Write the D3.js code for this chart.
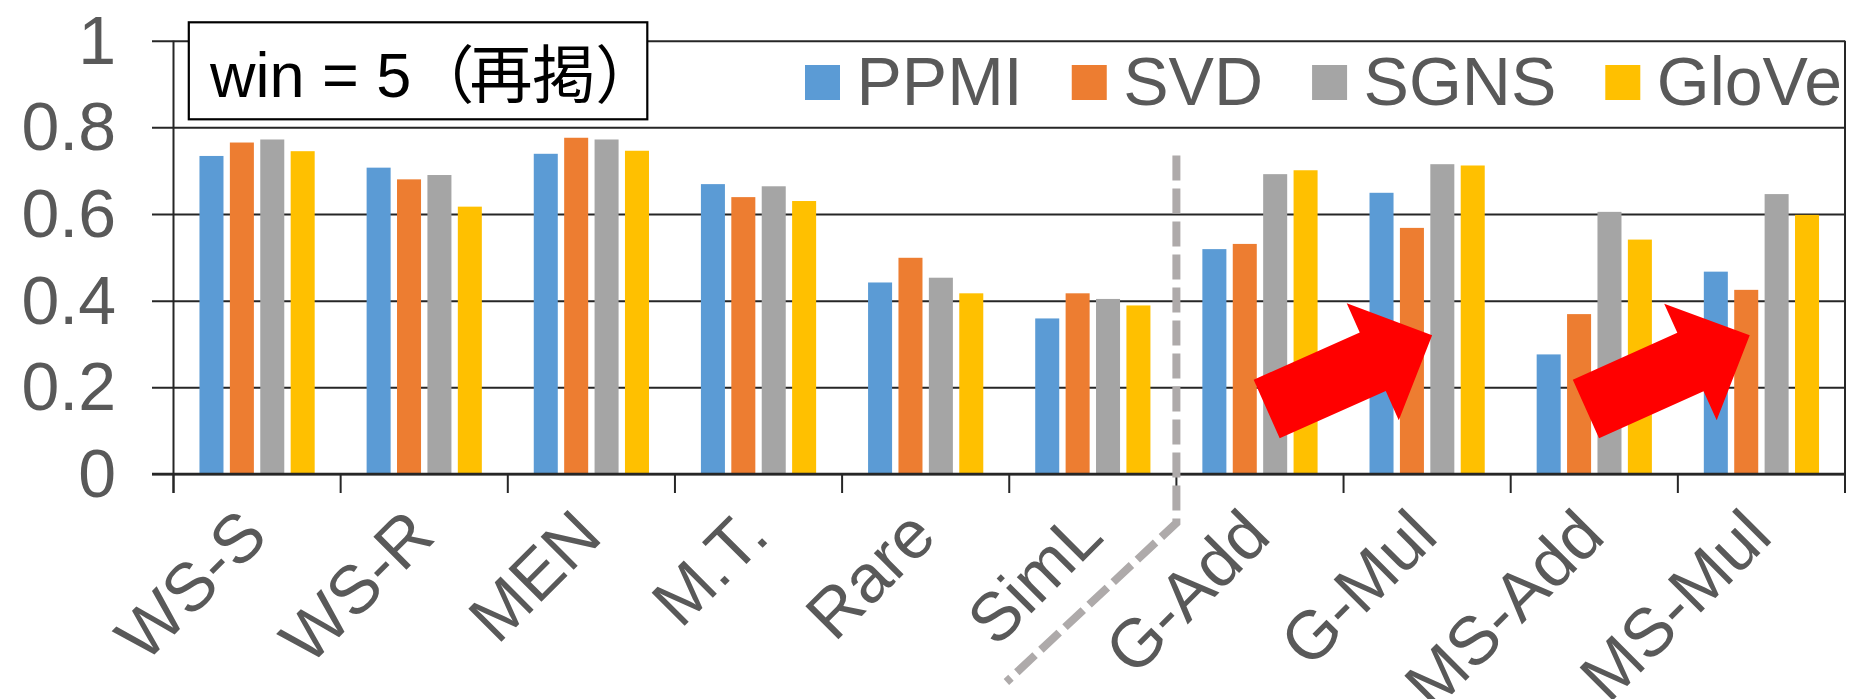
<!DOCTYPE html>
<html>
<head>
<meta charset="utf-8">
<script src="https://cdn.jsdelivr.net/npm/d3@7"></script>
<style>
  body { margin: 0; background: #fff; }
  svg { display: block; }
</style>
</head>
<body>
<svg id="chart" width="1849" height="699"></svg>
<script>
// data
var categories = ["WS-S", "WS-R", "MEN", "M.T.", "Rare", "SimL", "G-Add", "G-Mul", "MS-Add", "MS-Mul"];
var seriesNames = ["PPMI", "SVD", "SGNS", "GloVe"];
var ppmi  = [0.734, 0.707, 0.739, 0.669, 0.442, 0.359, 0.519, 0.649, 0.276, 0.467];
var svd   = [0.765, 0.680, 0.776, 0.639, 0.499, 0.417, 0.531, 0.568, 0.369, 0.425];
var sgns  = [0.772, 0.690, 0.772, 0.664, 0.453, 0.404, 0.692, 0.715, 0.605, 0.646];
var glove = [0.745, 0.617, 0.746, 0.630, 0.417, 0.389, 0.701, 0.712, 0.541, 0.598];
var yTicks = [0, 0.2, 0.4, 0.6, 0.8, 1];
var titleParts = ["win = 5（", "再掲）"];

// dashed divider before this category, up to this value
var dividerCategory = "G-Add";
var dividerTop = 0.735;

// red block arrows: [category, fraction across band, value]
var arrows = [
    { from: ["G-Add", 0.54, 0.15], to: ["G-Mul", 0.53, 0.32] },
    { from: ["MS-Add", 0.45, 0.15], to: ["MS-Mul", 0.43, 0.32] }
];

var seriesValues = [ppmi, svd, sgns, glove];
var colors = ["#5B9BD5", "#ED7D31", "#A5A5A5", "#FFC000"];

var FONT = "'Liberation Sans', Arial, 'Noto Sans CJK JP', sans-serif";
var plotLeft = 173.5, plotRight = 1845, plotTop = 40.7, plotBottom = 474;

var svg = d3.select("#chart");

var x0 = d3.scaleBand().domain(categories).range([plotLeft, plotRight]).padding(0);
var bw = x0.bandwidth();
var x1 = d3.scaleBand().domain(seriesNames)
    .range([bw / 2 - 60.8, bw / 2 + 60.8])
    .paddingInner(0.21).paddingOuter(0.105);
var y = d3.scaleLinear().domain([0, 1]).range([plotBottom, plotTop]);
var color = d3.scaleOrdinal().domain(seriesNames).range(colors);

// gridlines + y labels
var yAxis = svg.append("g")
    .attr("transform", "translate(152,0)")
    .call(d3.axisLeft(y).tickValues(yTicks).tickSize(-(plotRight - 152)).tickPadding(36)
        .tickFormat(function(d) { return d3.format("~g")(d); }));
yAxis.select(".domain").remove();
yAxis.selectAll("line").attr("stroke", "#262626").attr("stroke-width", 2);
yAxis.selectAll("text")
    .attr("fill", "#595959")
    .attr("dy", "0.33em")
    .style("font-family", FONT)
    .style("font-size", "68px");

// y axis line
svg.append("line")
    .attr("x1", plotLeft).attr("x2", plotLeft).attr("y1", y(1)).attr("y2", plotBottom + 19)
    .attr("stroke", "#262626").attr("stroke-width", 2);

// x tick marks at category boundaries (last one runs up as the right border)
var bounds = categories.map(function(c) { return x0(c); }).concat([plotRight]);
svg.append("g").selectAll("line")
    .data(bounds)
    .enter().append("line")
    .attr("x1", function(d) { return d; })
    .attr("x2", function(d) { return d; })
    .attr("y1", function(d, i) { return i == bounds.length - 1 ? y(1) : plotBottom; })
    .attr("y2", plotBottom + 19)
    .attr("stroke", "#262626").attr("stroke-width", 2);

// bars
var rows = categories.map(function(c, i) {
    return { cat: c, vals: seriesNames.map(function(s, j) { return { key: s, value: seriesValues[j][i] }; }) };
});

var group = svg.append("g").selectAll("g")
    .data(rows)
    .enter().append("g")
    .attr("transform", function(d) { return "translate(" + x0(d.cat) + ",0)"; });

group.selectAll("rect")
    .data(function(d) { return d.vals; })
    .enter().append("rect")
    .attr("x", function(d) { return x1(d.key); })
    .attr("y", function(d) { return y(d.value); })
    .attr("width", x1.bandwidth())
    .attr("height", function(d) { return plotBottom - y(d.value); })
    .attr("fill", function(d) { return color(d.key); });

// zero line on top of bars
svg.append("line")
    .attr("x1", 152).attr("x2", plotRight).attr("y1", plotBottom).attr("y2", plotBottom)
    .attr("stroke", "#262626").attr("stroke-width", 2.5);

// x labels
var xAxis = svg.append("g")
    .attr("transform", "translate(0," + plotBottom + ")")
    .call(d3.axisBottom(x0).tickSize(0));
xAxis.select(".domain").remove();
xAxis.selectAll("text")
    .attr("y", 0)
    .attr("dy", null)
    .attr("transform", "translate(13,65) rotate(-45)")
    .attr("text-anchor", "end")
    .attr("fill", "#595959")
    .style("font-family", FONT)
    .style("font-size", "68px");

// dashed divider
var divX = x0(dividerCategory);
svg.append("path")
    .attr("d", d3.line()([[divX, y(dividerTop)], [divX, plotBottom + 49], [divX - 170, plotBottom + 208]]))
    .attr("fill", "none")
    .attr("stroke", "#AEAAAA")
    .attr("stroke-width", 8)
    .attr("stroke-dasharray", "25 8");

// title box
svg.append("rect")
    .attr("x", 188.8).attr("y", 22.3).attr("width", 458.5).attr("height", 97)
    .attr("fill", "#fff").attr("stroke", "#000").attr("stroke-width", 2.2);
var title = svg.append("text")
    .attr("x", 210).attr("y", 96.7)
    .attr("fill", "#000")
    .style("font-family", FONT)
    .style("font-size", "63px");
title.append("tspan").text(titleParts[0]);
title.append("tspan").attr("dx", -5).text(titleParts[1]);

// legend
var legend = svg.append("g");
var lx = 805;
seriesNames.forEach(function(s) {
    legend.append("rect")
        .attr("x", lx).attr("y", 65).attr("width", 35).attr("height", 35)
        .attr("fill", color(s));
    var t = legend.append("text")
        .attr("x", lx + 51.5).attr("y", 105)
        .attr("fill", "#595959")
        .style("font-family", FONT)
        .style("font-size", "68px")
        .text(s);
    lx += 51.5 + t.node().getComputedTextLength() + 49;
});

// arrows
function pt(a) { return [x0(a[0]) + a[1] * bw, y(a[2])]; }
function arrowPoints(T, P) {
    var shaftW = 64, headL = 65, headW = 128;
    var ddx = P[0] - T[0], ddy = P[1] - T[1], L = Math.hypot(ddx, ddy);
    var u = [ddx / L, ddy / L], n = [-u[1], u[0]];
    var b = L - headL;
    function at(along, side) { return [T[0] + u[0] * along + n[0] * side, T[1] + u[1] * along + n[1] * side]; }
    return [at(0, shaftW / 2), at(b, shaftW / 2), at(b, headW / 2), P,
            at(b, -headW / 2), at(b, -shaftW / 2), at(0, -shaftW / 2)];
}
svg.append("g").selectAll("polygon")
    .data(arrows)
    .enter().append("polygon")
    .attr("points", function(d) { return arrowPoints(pt(d.from), pt(d.to)).map(function(p) { return p.join(","); }).join(" "); })
    .attr("fill", "#FF0000");
</script>
</body>
</html>
